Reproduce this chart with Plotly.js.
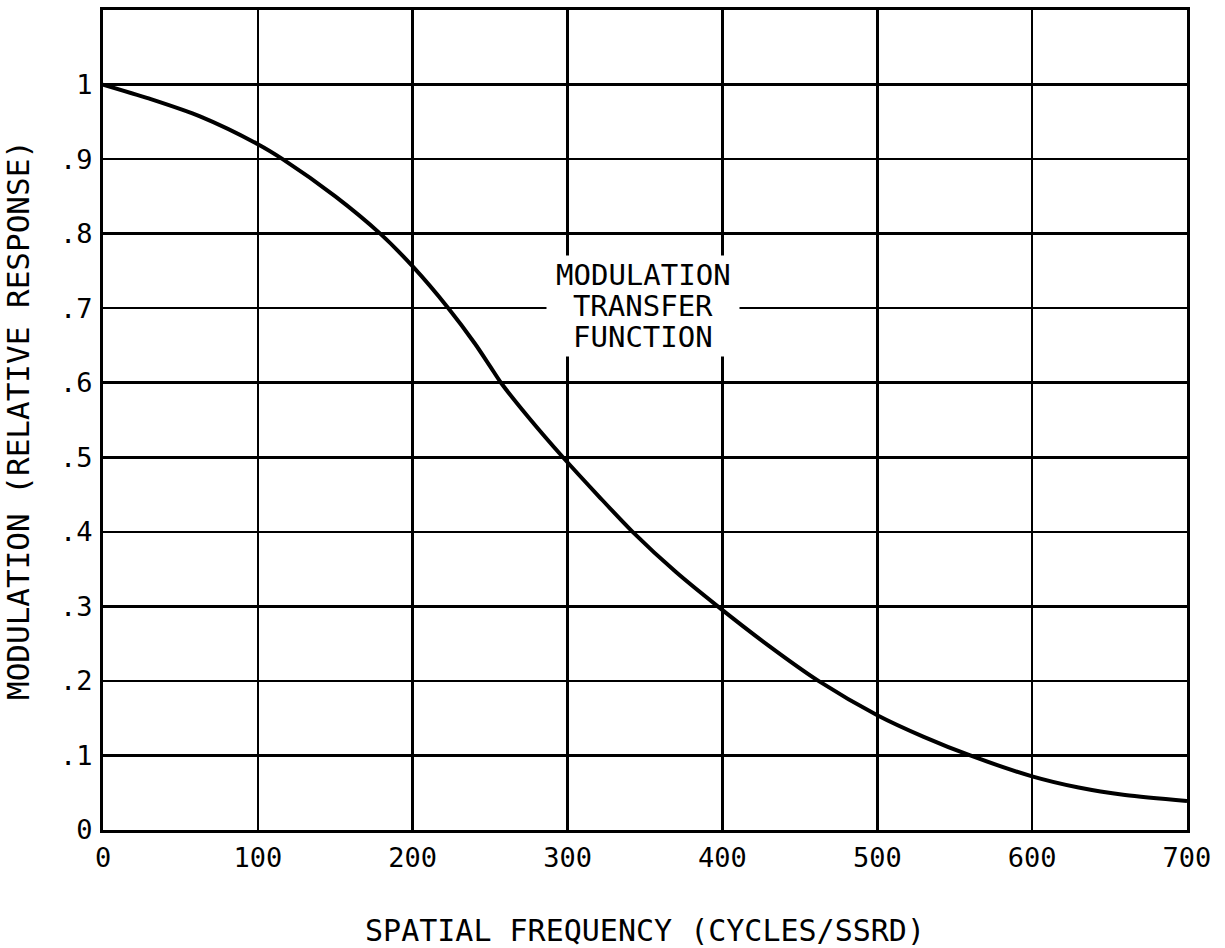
<!DOCTYPE html>
<html>
<head>
<meta charset="utf-8">
<script src="https://cdn.plot.ly/plotly-3.0.1.min.js"></script>
<style>
  html, body { margin: 0; padding: 0; background: #fff; }
  #chart { width: 1225px; height: 948px; }
</style>
</head>
<body>
<div id="chart"></div>
<script>
// Spatial frequency (cycles/SSRD)
const frequency = [0, 30, 63, 100, 116, 150, 179, 200, 223, 240, 250, 257, 275, 297, 320, 342, 370, 397, 430, 462, 500, 530, 560, 600, 630, 660, 700];
// Modulation (relative response)
const modulation = [1.0, 0.981, 0.957, 0.92, 0.9, 0.85, 0.8, 0.756, 0.7, 0.653, 0.622, 0.6, 0.553, 0.5, 0.448, 0.4, 0.346, 0.3, 0.247, 0.2, 0.154, 0.125, 0.1, 0.072, 0.057, 0.047, 0.039];

const xTickVals = [0, 100, 200, 300, 400, 500, 600, 700];
const xTickText = ["0", "100", "200", "300", "400", "500", "600", "700"];
const yTickVals = [0, 0.1, 0.2, 0.3, 0.4, 0.5, 0.6, 0.7, 0.8, 0.9, 1.0];
const yTickText = ["0", ".1", ".2", ".3", ".4", ".5", ".6", ".7", ".8", ".9", "1"];

const labelLines = ["MODULATION", "TRANSFER", "FUNCTION"];
const labelX = 349;
const labelY = 0.703;

const FONT = "DejaVu Sans Mono, Liberation Mono, monospace";

const trace = {
  x: frequency,
  y: modulation,
  type: "scatter",
  mode: "lines",
  line: { color: "#000", width: 4, shape: "spline", smoothing: 0.8 },
  hoverinfo: "skip"
};

const lineGap = 31;
const annotations = [
  {
    x: labelX, y: labelY, xref: "x", yref: "y",
    text: labelLines[1], showarrow: false, align: "center",
    bgcolor: "#fff", width: 192, height: 100, borderpad: 0,
    font: { family: FONT, size: 29, color: "#000" }
  },
  {
    x: labelX, y: labelY, xref: "x", yref: "y", yshift: lineGap,
    text: labelLines[0], showarrow: false, align: "center",
    font: { family: FONT, size: 29, color: "#000" }
  },
  {
    x: labelX, y: labelY, xref: "x", yref: "y", yshift: -lineGap,
    text: labelLines[2], showarrow: false, align: "center",
    font: { family: FONT, size: 29, color: "#000" }
  }
];

const layout = {
  width: 1225,
  height: 948,
  margin: { l: 103, r: 38, t: 10, b: 118 },
  paper_bgcolor: "#fff",
  plot_bgcolor: "#fff",
  showlegend: false,
  font: { family: FONT, color: "#000", size: 27 },
  xaxis: {
    range: [0, 700],
    tickvals: xTickVals,
    ticktext: xTickText,
    showgrid: true,
    gridcolor: "#000",
    gridwidth: 2.5,
    showline: true,
    linecolor: "#000",
    linewidth: 3,
    mirror: true,
    zeroline: false,
    ticks: "",
    ticklabelstandoff: 2,
    tickfont: { family: FONT, size: 27, color: "#000" },
    title: { text: "SPATIAL FREQUENCY (CYCLES/SSRD)", font: { family: FONT, size: 30, color: "#000" }, standoff: 48 }
  },
  yaxis: {
    range: [0, 1.1],
    tickvals: yTickVals,
    ticktext: yTickText,
    showgrid: true,
    gridcolor: "#000",
    gridwidth: 2.5,
    showline: true,
    linecolor: "#000",
    linewidth: 3,
    mirror: true,
    zeroline: false,
    ticks: "",
    ticklabelstandoff: 2,
    tickfont: { family: FONT, size: 27, color: "#000" },
    title: { text: "MODULATION (RELATIVE RESPONSE)", font: { family: FONT, size: 31, color: "#000" }, standoff: 24 }
  },
  annotations: annotations
};

Plotly.newPlot("chart", [trace], layout, { displayModeBar: false, staticPlot: true });
</script>
</body>
</html>
